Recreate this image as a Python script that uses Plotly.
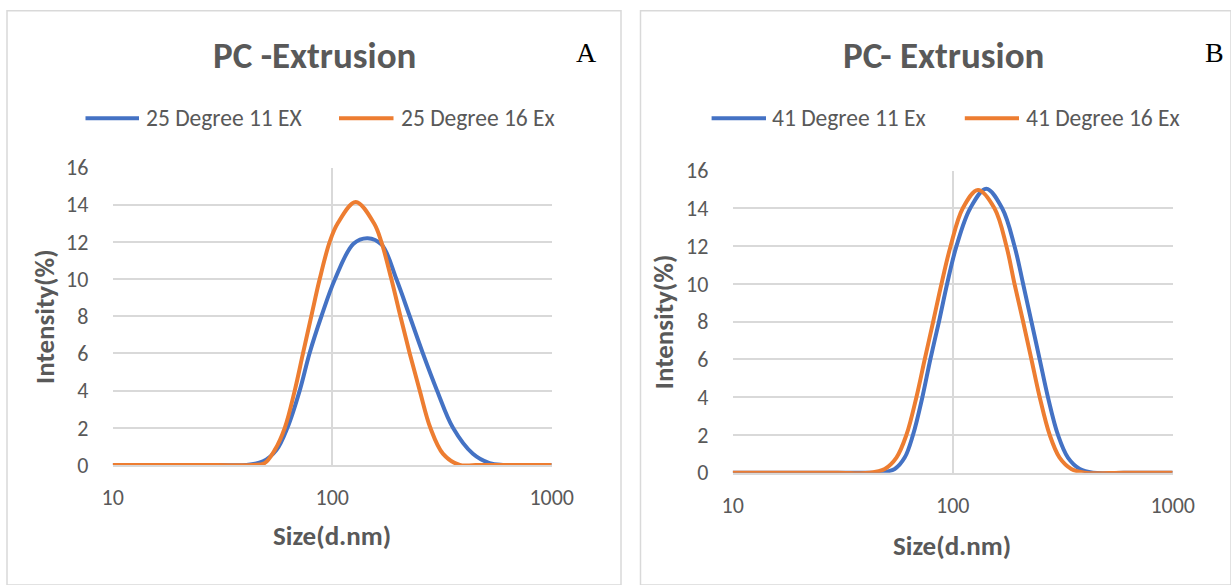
import plotly.graph_objects as go

W, H = 1231, 585

# ---------------- data ----------------
a_blue_name = "25 Degree 11 EX"
a_blue_x = [10, 20, 30, 40.6, 48.4, 55.7, 62.5, 71.1, 78.8, 89.3, 103, 125, 145,
            168, 196, 225.5, 259, 300.5, 355, 437.5, 521, 600, 800, 1000]
a_blue_y = [0, 0, 0, 0, 0.2, 0.8, 2, 4, 6, 8, 10, 11.9, 12.2,
            11.85, 10, 8, 6, 4, 2, 0.6, 0.1, 0, 0, 0]

a_orange_name = "25 Degree 16 Ex"
a_orange_x = [10, 20, 30, 43.5, 49.2, 54.7, 60.8, 67.5, 73.6, 80.3, 87.7, 97.4, 106,
              128, 155, 167.5, 186, 204.5, 225.5, 250.5, 280, 320, 381, 450, 700, 1000]
a_orange_y = [0, 0, 0, 0, 0.1, 0.8, 2, 4, 6, 8, 10, 12, 13,
              14.15, 13, 12, 10, 8, 6, 4, 2, 0.6, 0, 0, 0, 0]

b_blue_name = "41 Degree 11 Ex"
b_blue_x = [10, 20, 30, 40, 46.6, 54.5, 60.5, 66, 72.8, 79.1, 86.6, 94.3, 104, 120,
            142, 168, 191, 209, 228, 248.6, 271, 301, 334, 378, 434, 600, 1000]
b_blue_y = [0, 0, 0, 0, 0, 0.2, 0.8, 2, 4, 6, 8, 10, 12, 14,
            15.05, 14, 12, 10, 8, 6, 4, 2, 0.8, 0.2, 0, 0, 0]

b_orange_name = "41 Degree 16 Ex"
b_orange_x = [10, 20, 30, 42, 49.1, 55.5, 61.6, 68.4, 74.6, 81.5, 88.9, 97.8, 111,
              130.3, 155, 175.5, 191, 209, 228, 248.6, 276, 306, 346, 398, 600, 1000]
b_orange_y = [0, 0, 0, 0, 0.2, 0.8, 2, 4, 6, 8, 10, 12, 14,
              14.98, 14, 12, 10, 8, 6, 4, 2, 0.8, 0.2, 0, 0, 0]

y_ticks = [0, 2, 4, 6, 8, 10, 12, 14, 16]
x_ticks = [10, 100, 1000]
x_tick_text = ["10", "100", "1000"]

titles = ["PC -Extrusion", "PC- Extrusion"]
panel_letters = ["A", "B"]
x_title = "Size(d.nm)"
y_title = "Intensity(%)"

# ---------------- style ----------------
BLUE = "#4472C4"
ORANGE = "#ED7D31"
GRID = "#D9D9D9"
TXT = "#595959"
FONT = "Carlito, Calibri, Lato, sans-serif"
SERIF = "Liberation Serif, Times New Roman, serif"
LW = 4


def px(x):
    return x / W


def py(y):
    return 1 - y / H


fig = go.Figure()
for xs, ys, name, col, xa, ya in [
    (a_blue_x, a_blue_y, a_blue_name, BLUE, "x", "y"),
    (a_orange_x, a_orange_y, a_orange_name, ORANGE, "x", "y"),
    (b_blue_x, b_blue_y, b_blue_name, BLUE, "x2", "y2"),
    (b_orange_x, b_orange_y, b_orange_name, ORANGE, "x2", "y2"),
]:
    fig.add_trace(go.Scatter(x=xs, y=ys, name=name, mode="lines", xaxis=xa, yaxis=ya,
                             line=dict(color=col, width=LW, shape="spline", smoothing=1),
                             cliponaxis=False, showlegend=False))

axis_common = dict(showgrid=True, gridcolor=GRID, gridwidth=1.5, zeroline=False,
                   tickfont=dict(family=FONT, size=22, color=TXT), automargin=False,
                   ticks="outside", tickcolor="rgba(0,0,0,0)", fixedrange=True)

panels = [
    dict(x0=112.7, x1=551.7, ytop=167.5, ybot=465.0),
    dict(x0=732.7, x1=1172.7, ytop=170.7, ybot=472.7),
]

for i, p in enumerate(panels):
    sfx = "" if i == 0 else "2"
    fig.update_layout(**{
        "xaxis" + sfx: dict(axis_common, type="log", range=[1, 3],
                            domain=[px(p["x0"]), px(p["x1"])],
                            anchor="y" + sfx, tickvals=x_ticks, ticktext=x_tick_text,
                            ticklen=12, showline=True, linecolor=GRID, linewidth=1.5),
        "yaxis" + sfx: dict(axis_common, range=[0, 16], tickvals=y_ticks,
                            domain=[py(p["ybot"]), py(p["ytop"])],
                            anchor="x" + sfx, ticklen=19, showline=False),
    })

shapes = []
# panel borders
shapes.append(dict(type="rect", xref="paper", yref="paper", x0=px(7), x1=px(621),
                   y0=0, y1=py(10.7), line=dict(color=GRID, width=1.5), layer="below"))
shapes.append(dict(type="rect", xref="paper", yref="paper", x0=px(640.5), x1=1.0,
                   y0=0, y1=py(10.7), line=dict(color=GRID, width=1.5), layer="below"))

annotations = []
title_x = [314.7, 943.0]
title_y = [55.0, 55.0]
letter_x = [586.5, 1214.0]
ytitle_pos = [(44.0, 317.0), (663.3, 322.0)]
xtitle_pos = [(331.6, 535.0), (951.7, 545.0)]
legend_rows = [
    [(85.5, 139.0, 144.0, a_blue_name, BLUE), (339.0, 393.5, 398.6, a_orange_name, ORANGE)],
    [(711.6, 766.0, 770.0, b_blue_name, BLUE), (964.8, 1019.0, 1024.0, b_orange_name, ORANGE)],
]
LEG_Y = 118.3

for i in range(2):
    annotations.append(dict(text="<b>%s</b>" % titles[i], x=px(title_x[i]), y=py(title_y[i]),
                            xref="paper", yref="paper", xanchor="center", yanchor="middle",
                            showarrow=False, font=dict(family=FONT, size=37, color=TXT)))
    annotations.append(dict(text=panel_letters[i], x=px(letter_x[i]), y=py(52),
                            xref="paper", yref="paper", xanchor="center", yanchor="middle",
                            showarrow=False, font=dict(family=SERIF, size=28, color="black")))
    annotations.append(dict(text="<b>%s</b>" % y_title, x=px(ytitle_pos[i][0]), y=py(ytitle_pos[i][1]),
                            xref="paper", yref="paper", xanchor="center", yanchor="middle",
                            textangle=-90, showarrow=False,
                            font=dict(family=FONT, size=27, color=TXT)))
    annotations.append(dict(text="<b>%s</b>" % x_title, x=px(xtitle_pos[i][0]), y=py(xtitle_pos[i][1]),
                            xref="paper", yref="paper", xanchor="center", yanchor="middle",
                            showarrow=False, font=dict(family=FONT, size=27, color=TXT)))
    for (lx0, lx1, tx, name, col) in legend_rows[i]:
        shapes.append(dict(type="line", xref="paper", yref="paper", x0=px(lx0), x1=px(lx1),
                           y0=py(LEG_Y), y1=py(LEG_Y), line=dict(color=col, width=LW)))
        annotations.append(dict(text=name, x=px(tx), y=py(LEG_Y), xref="paper", yref="paper",
                                xanchor="left", yanchor="middle", showarrow=False,
                                font=dict(family=FONT, size=23.5, color=TXT)))

fig.update_layout(width=W, height=H, margin=dict(l=0, r=0, t=0, b=0, pad=0, autoexpand=False),
                  paper_bgcolor="white", plot_bgcolor="white",
                  shapes=shapes, annotations=annotations, showlegend=False)

fig.write_html("out.html", config={"displayModeBar": False},
               post_script="document.body.style.margin='0';document.body.style.padding='0';")
